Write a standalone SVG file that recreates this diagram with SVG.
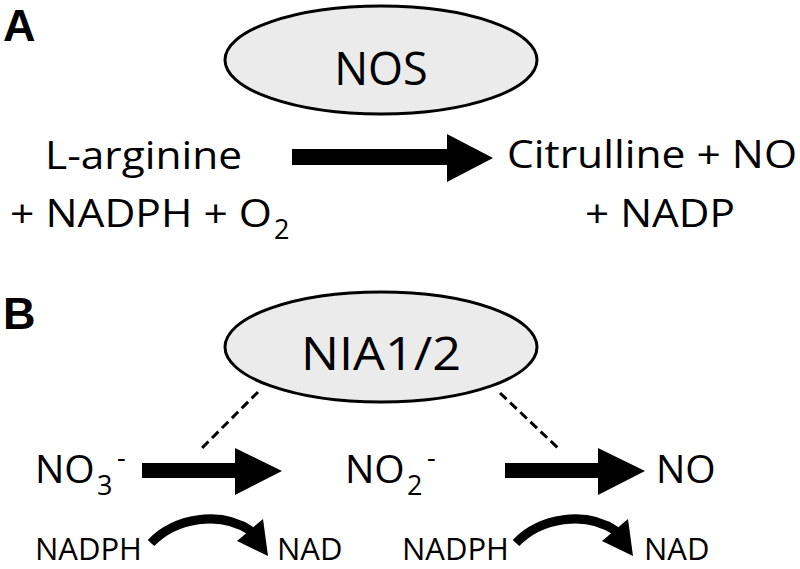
<svg xmlns="http://www.w3.org/2000/svg" width="800" height="569" viewBox="0 0 800 569">
<style>
.lbl{font-family:"Liberation Sans",Arial,sans-serif;font-weight:bold;font-size:45px;fill:#000}
.t{font-family:"Open Sans","Noto Sans",sans-serif;font-size:39px;fill:#000}
.big{font-family:"Open Sans","Noto Sans",sans-serif;font-size:45px;fill:#000}
.sm{font-family:"Open Sans","Noto Sans",sans-serif;font-size:31px;fill:#000}
.sub{font-family:"Open Sans","Noto Sans",sans-serif;font-size:27px;fill:#000}
.enz{fill:#ebebeb;stroke:#000;stroke-width:3}
.dash{stroke:#000;stroke-width:3;stroke-dasharray:9 5;fill:none}
.curve{stroke:#000;stroke-width:9;fill:none}
</style>
<rect width="800" height="569" fill="#fff"/>
<text class="lbl" x="3" y="41">A</text>
<text class="lbl" x="3" y="329">B</text>

<g id="nos">
  <ellipse class="enz" cx="381" cy="60" rx="156" ry="54"/>
  <text class="big" x="381" y="85" text-anchor="middle">NOS</text>
</g>
<g id="substrates-a">
  <text class="t" x="45" y="169" textLength="197" lengthAdjust="spacingAndGlyphs">L-arginine</text>
  <text class="t" x="10" y="227" textLength="262" lengthAdjust="spacingAndGlyphs">+ NADPH + O</text>
  <text class="sub" x="274" y="239">2</text>
</g>
<g id="products-a">
  <text class="t" x="507" y="168" textLength="290" lengthAdjust="spacingAndGlyphs">Citrulline + NO</text>
  <text class="t" x="585" y="227" textLength="150" lengthAdjust="spacingAndGlyphs">+ NADP</text>
</g>

<g id="nia">
  <ellipse class="enz" cx="381" cy="347" rx="156" ry="55"/>
  <text class="big" x="381" y="370" text-anchor="middle" textLength="160" lengthAdjust="spacingAndGlyphs">NIA1/2</text>
</g>
<g id="no3">
  <text class="t" x="35" y="483">NO</text>
  <text class="sub" x="97" y="495">3</text>
  <text class="sub" x="117" y="467">-</text>
</g>
<g id="no2">
  <text class="t" x="345" y="483">NO</text>
  <text class="sub" x="407" y="495">2</text>
  <text class="sub" x="427" y="467">-</text>
</g>
<g id="no">
  <text class="t" x="656" y="483">NO</text>
</g>
<g id="nadph1"><text class="sm" x="35" y="560">NADPH</text></g>
<g id="nad1"><text class="sm" x="277" y="560">NAD</text></g>
<g id="nadph2"><text class="sm" x="402" y="560">NADPH</text></g>
<g id="nad2"><text class="sm" x="644" y="560">NAD</text></g>

<g id="connectors">
  <polygon points="292,149 447,149 447,134 493,158 447,182 447,165 292,165" fill="#000"/>
  <polygon points="142,463 235,463 235,448 282,471 235,495 235,478 142,478" fill="#000"/>
  <polygon points="505,463 598,463 598,448 645,471 598,495 598,478 505,478" fill="#000"/>
  <line class="dash" x1="258" y1="392" x2="202" y2="448"/>
  <line class="dash" x1="500" y1="393" x2="559" y2="449"/>
  <path class="curve" d="M151 543 C175 518 220 510 251 531"/>
  <polygon points="237,541 263,519 268,556" fill="#000"/>
  <path class="curve" d="M516 543 C540 518 585 510 616 531"/>
  <polygon points="602,541 628,519 633,556" fill="#000"/>
</g>
</svg>
